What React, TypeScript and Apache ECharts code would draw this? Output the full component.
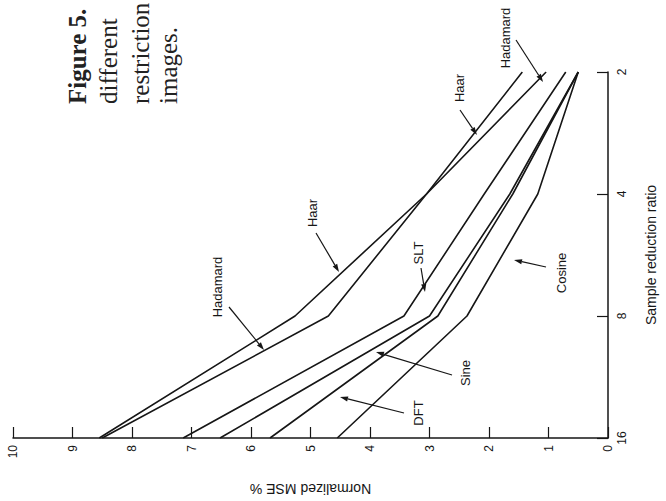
import React, { useEffect, useRef } from "react";
import * as echarts from "echarts";

// Sample reduction ratio (log2 axis) and normalized MSE % values
const ratios = [2, 4, 8, 16];
const haar = [1.44, 3.05, 5.26, 8.55];
const hadamard = [1.04, 3.05, 4.7, 8.5];
const slt = [0.71, 2.08, 3.43, 7.14];
const sine = [0.5, 1.65, 3.0, 6.52];
const dft = [0.5, 1.6, 2.86, 5.68];
const cosine = [0.5, 1.18, 2.37, 4.55];
const mseTicks = [0, 1, 2, 3, 4, 5, 6, 7, 8, 9, 10];

const seriesNames = ["Haar", "Hadamard", "SLT", "Sine", "DFT", "Cosine"];
const seriesValues = [haar, hadamard, slt, sine, dft, cosine];

// annotation labels (pixel positions) and arrows
const labels = [
  { text: "Hadamard", x: 505, y: 38 },
  { text: "Haar", x: 459, y: 88 },
  { text: "Haar", x: 312, y: 213 },
  { text: "Hadamard", x: 217, y: 287 },
  { text: "SLT", x: 418, y: 253 },
  { text: "Cosine", x: 561, y: 273 },
  { text: "Sine", x: 465, y: 373 },
  { text: "DFT", x: 418, y: 413 },
];
const arrows = [
  [516, 40, 543, 82],
  [460, 110, 477, 135],
  [316, 233, 339, 272],
  [229, 307, 264, 350],
  [421, 268, 425, 292],
  [546, 267, 514, 260],
  [452, 375, 376, 352],
  [404, 413, 340, 397],
];
const caption = [
  { text: "Figure 5.", x: 77, bold: true },
  { text: "different", x: 108, bold: false },
  { text: "restriction", x: 140, bold: false },
  { text: "images.", x: 168, bold: false },
];

const INK = "#161616";
const SANS = "'Liberation Sans', Arial, Helvetica, sans-serif";

function arrowGraphic(a: number[]) {
  const [x1, y1, x2, y2] = a;
  const ang = Math.atan2(y2 - y1, x2 - x1);
  const len = 8;
  const w = 2.6;
  const bx = x2 - len * Math.cos(ang);
  const by = y2 - len * Math.sin(ang);
  const px = -Math.sin(ang) * w;
  const py = Math.cos(ang) * w;
  return [
    {
      type: "line",
      shape: { x1, y1, x2: bx, y2: by },
      style: { stroke: INK, lineWidth: 1.2 },
    },
    {
      type: "polygon",
      shape: {
        points: [
          [x2, y2],
          [bx + px, by + py],
          [bx - px, by - py],
        ],
      },
      style: { fill: INK },
    },
  ];
}

export default function App() {
  const ref = useRef<HTMLDivElement>(null);
  useEffect(() => {
    if (!ref.current) return;
    const chart = echarts.init(ref.current, undefined, { renderer: "svg" });
    const graphics: any[] = [];
    labels.forEach((l) =>
      graphics.push({
        type: "text",
        x: l.x,
        y: l.y,
        rotation: Math.PI / 2,
        style: {
          text: l.text,
          fontSize: 13,
          fontFamily: SANS,
          fill: INK,
          align: "center",
          verticalAlign: "middle",
        },
      })
    );
    arrows.forEach((a) => graphics.push(...arrowGraphic(a)));
    caption.forEach((c) =>
      graphics.push({
        type: "text",
        x: c.x,
        y: 104,
        rotation: Math.PI / 2,
        style: {
          text: c.text,
          fontSize: 25,
          fontWeight: c.bold ? "bold" : "normal",
          fontFamily: "'Liberation Serif', 'DejaVu Serif', serif",
          fill: "#222",
          align: "left",
          verticalAlign: "middle",
        },
      })
    );

    chart.setOption({
      animation: false,
      backgroundColor: "#ffffff",
      grid: { left: 13, right: 49, top: 72, bottom: 63 },
      xAxis: {
        type: "value",
        min: mseTicks[0],
        max: mseTicks[mseTicks.length - 1],
        interval: 1,
        inverse: true,
        position: "bottom",
        name: "Normalized MSE %",
        nameLocation: "middle",
        nameGap: 44,
        nameRotate: 180,
        nameTextStyle: { fontSize: 14, fontFamily: SANS, color: INK },
        axisLine: { lineStyle: { color: INK, width: 1.5 } },
        axisTick: { inside: true, length: 11, lineStyle: { color: INK, width: 1.2 } },
        axisLabel: {
          rotate: 90,
          margin: 7,
          fontSize: 12,
          fontFamily: SANS,
          color: INK,
        },
        splitLine: { show: false },
      },
      yAxis: {
        type: "log",
        logBase: 2,
        min: ratios[0],
        max: ratios[ratios.length - 1],
        inverse: true,
        position: "right",
        name: "Sample reduction ratio",
        nameLocation: "middle",
        nameGap: 36,
        nameTextStyle: { fontSize: 14, fontFamily: SANS, color: INK },
        axisLine: { onZero: false, lineStyle: { color: INK, width: 1.5 } },
        axisTick: { inside: true, length: 11, lineStyle: { color: INK, width: 1.2 } },
        axisLabel: {
          rotate: 90,
          margin: 8,
          fontSize: 12,
          fontFamily: SANS,
          color: INK,
        },
        splitLine: { show: false },
        minorTick: { show: false },
      },
      series: seriesNames.map((name, i) => ({
        name,
        type: "line",
        data: seriesValues[i].map((v, j) => [v, ratios[j]]),
        symbol: "none",
        lineStyle: { color: INK, width: 1.6 },
        z: 3,
      })),
      graphic: graphics,
    });
    return () => chart.dispose();
  }, []);
  return (
    <div
      ref={ref}
      style={{ position: "fixed", left: 0, top: 0, width: 666, height: 501 }}
    />
  );
}
